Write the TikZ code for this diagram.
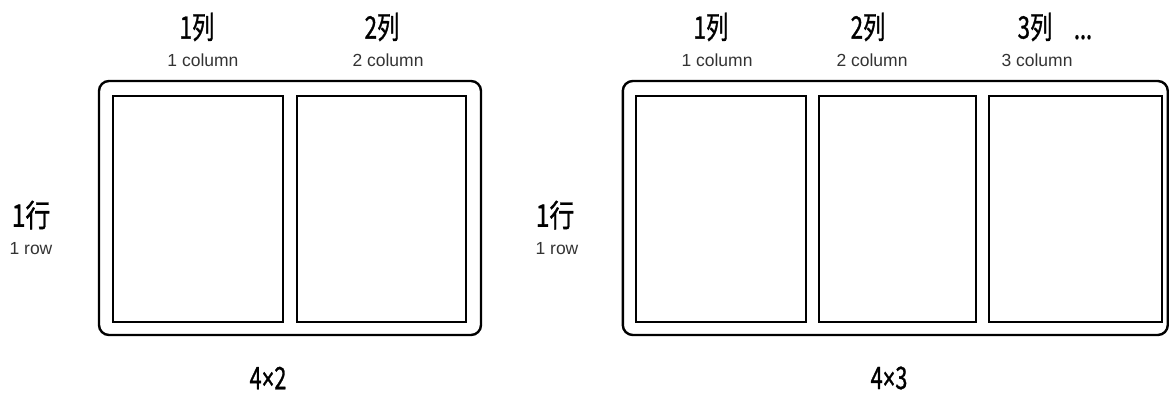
\documentclass[tikz,border=0pt]{standalone}
\usepackage{fontspec}
\setmainfont{Liberation Sans}
\newfontfamily\cjk{Noto Sans CJK SC}[FakeBold=1.2]
\newfontfamily\latb{Liberation Sans}[FakeBold=1.2]
\begin{document}
\begin{tikzpicture}[x=1pt,y=-1pt,
  outerbox/.style={draw=black,line width=2.4pt,rounded corners=10pt,inner sep=0pt},
  cellbox/.style={draw=black,line width=2pt,inner sep=0pt},
  bigt/.style={inner sep=0pt,font=\cjk\fontsize{31}{31}\selectfont},
  smallt/.style={inner sep=0pt,text=black!80,font=\fontsize{17.5}{17.5}\selectfont},
  sizet/.style={inner sep=0pt,font=\cjk\fontsize{31}{31}\selectfont}]
\useasboundingbox (0,0) rectangle (1169,417);
% left panel
\node[outerbox,minimum width=382pt,minimum height=254pt] (LO) at (290,208) {};
\node[cellbox,minimum width=170pt,minimum height=226pt] (L1) at (197.7,208.7) {};
\node[cellbox,minimum width=169pt,minimum height=226pt] (L2) at (381.2,208.7) {};
\node[bigt] (Lc1) at (197,27) {\scalebox{0.72}[1]{1列}};
\node[smallt] (Lc1e) at (203,60) {1 column};
\node[bigt] (Lc2) at (382,27) {\scalebox{0.72}[1]{2列}};
\node[smallt] (Lc2e) at (388,60) {2 column};
\node[bigt] (Lr1) at (31,215) {\scalebox{0.8}[1]{1行}};
\node[smallt] (Lr1e) at (31,249) {1 row};
\node[sizet] (Ls) at (268,378) {\scalebox{0.7}[1]{4{\latb ×}2}};
% right panel
\node[outerbox,minimum width=545pt,minimum height=254pt] (RO) at (895.3,208) {};
\node[cellbox,minimum width=170pt,minimum height=226pt] (R1) at (720.7,208.7) {};
\node[cellbox,minimum width=156.4pt,minimum height=226pt] (R2) at (897.5,208.7) {};
\node[cellbox,minimum width=172.7pt,minimum height=226pt] (R3) at (1075.6,208.7) {};
\node[bigt] (Rc1) at (711,27) {\scalebox{0.72}[1]{1列}};
\node[smallt] (Rc1e) at (717,60) {1 column};
\node[bigt] (Rc2) at (868,27) {\scalebox{0.72}[1]{2列}};
\node[smallt] (Rc2e) at (872,60) {2 column};
\node[bigt] (Rc3) at (1035,27) {\scalebox{0.72}[1]{3列}};
\node[bigt,anchor=base] (Rdots) at (1083,39) {\scalebox{0.7}[1]{...}};
\node[smallt] (Rc3e) at (1037,60) {3 column};
\node[bigt] (Rr1) at (555,215) {\scalebox{0.8}[1]{1行}};
\node[smallt] (Rr1e) at (557,249) {1 row};
\node[sizet] (Rs) at (889,378) {\scalebox{0.7}[1]{4{\latb ×}3}};
\end{tikzpicture}
\end{document}
